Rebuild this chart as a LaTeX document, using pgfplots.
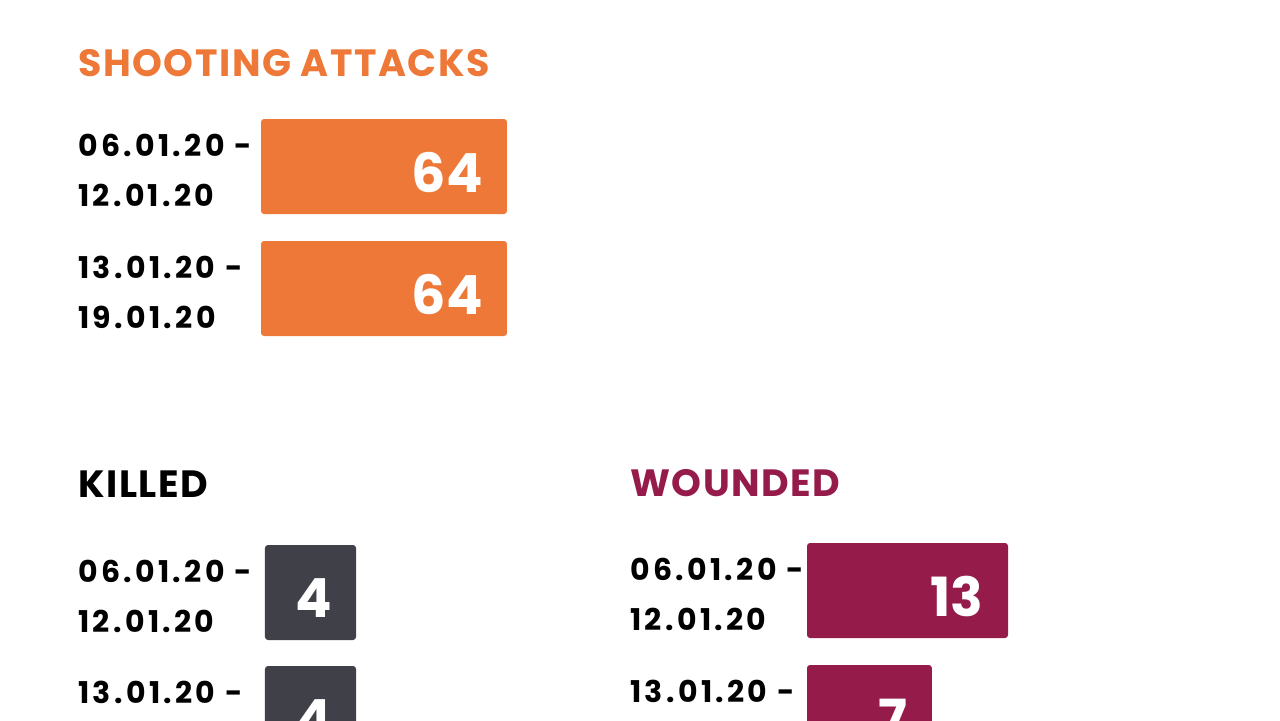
\documentclass[border=0pt]{standalone}
\usepackage{fontspec}
\setmainfont{Poppins}
\usepackage{pgfplots}
\pgfplotsset{compat=1.18}
\definecolor{orng}{HTML}{EE7838}
\definecolor{kgray}{HTML}{404048}
\definecolor{wred}{HTML}{951B4B}
\pgfplotsset{
  panel/.style={
    xbar, scale only axis, enlargelimits=false,
    hide x axis, axis y line*=left,
    y axis line style={draw=none}, ytick style={draw=none},
    major tick length=0pt,
    y dir=reverse, ymin=-0.5, ymax=1.5,
    ytick={0,1},
    yticklabels={{06.01.20 -\\12.01.20},{13.01.20 -\\19.01.20}},
    yticklabel style={anchor=west, align=left, inner sep=0pt, yshift=-2pt,
      font=\fontsize{15}{25}\selectfont\bfseries\addfontfeatures{LetterSpace=11}},
    bar width=47.5pt,
    point meta=rawx,
    nodes near coords,
    /pgf/number format/assume math mode=true,
    nodes near coords style={anchor=east, inner sep=0pt, text=white,
      font=\fontsize{27}{27}\selectfont\bfseries, xshift=-12pt, yshift=-3pt},
  },
}
\begin{document}
\begin{tikzpicture}[x=0.5pt,y=0.5pt]
\path[use as bounding box] (0,0) rectangle (1280,720);
\clip (0,0) rectangle (1280,720);
\node[anchor=base west, inner sep=0pt, text=orng, font=\fontsize{19}{19}\selectfont\bfseries\addfontfeatures{LetterSpace=4}] at (78,644) {SHOOTING ATTACKS};
\node[anchor=base west, inner sep=0pt, text=black, font=\fontsize{19}{19}\selectfont\bfseries\addfontfeatures{LetterSpace=4}] at (78,223) {KILLED};
\node[anchor=base west, inner sep=0pt, text=wred, font=\fontsize{19}{19}\selectfont\bfseries\addfontfeatures{LetterSpace=4}] at (630,224) {WOUNDED};

\begin{axis}[panel, at={(130.5pt,307.25pt)}, anchor=north west,
  width=123pt, height=122pt, xmin=0, xmax=64,
  yticklabel style={xshift=-91.5pt}]
\addplot[fill=orng, draw=none, rounded corners=1.5pt] coordinates {(64,0) (64,1)};
\end{axis}

\begin{axis}[panel, at={(132.5pt,94pt)}, anchor=north west,
  width=45.5pt, height=121pt, xmin=0, xmax=4,
  yticklabel style={xshift=-93.5pt}]
\addplot[fill=kgray, draw=none, rounded corners=1.5pt] coordinates {(4,0) (4,1)};
\end{axis}

\begin{axis}[panel, at={(403.5pt,95.25pt)}, anchor=north west,
  width=100.5pt, height=122pt, xmin=-2.84, xmax=13,
  x coord trafo/.code={\pgfmathparse{#1+2.84}},
  x coord inv trafo/.code={\pgfmathparse{#1-2.84}},
  yticklabel style={xshift=-88.5pt}]
\addplot[fill=wred, draw=none, rounded corners=1.5pt] coordinates {(13,0) (7,1)};
\end{axis}
\end{tikzpicture}
\end{document}
